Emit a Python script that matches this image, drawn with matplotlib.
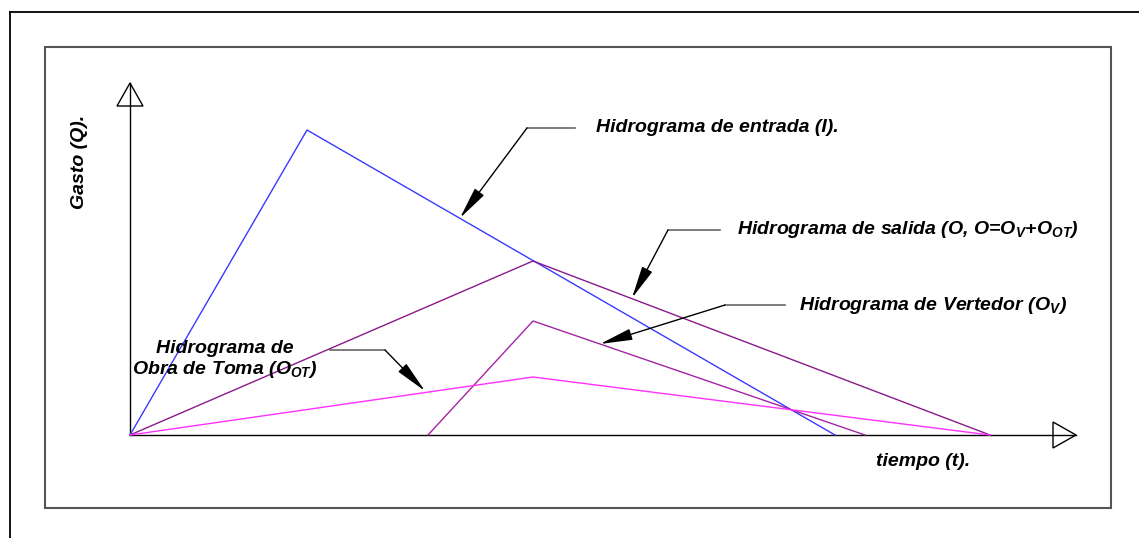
import matplotlib
matplotlib.use('Agg')
import matplotlib.pyplot as plt
from matplotlib.patches import Polygon, Rectangle

plt.rcParams['font.family'] = ['Liberation Sans', 'DejaVu Sans']
plt.rcParams['mathtext.fontset'] = 'custom'
plt.rcParams['mathtext.rm'] = 'Liberation Sans:bold:italic'
plt.rcParams['mathtext.default'] = 'rm'

# hydrographs (t, Q) in arbitrary units
t_entrada = [0, 17.7, 70.5]
q_entrada = [0, 30.5, 0]
t_salida = [0, 40.3, 86.0]
q_salida = [0, 17.4, 0]
t_vertedor = [29.8, 40.3, 73.5]
q_vertedor = [0, 11.4, 0]
t_toma = [0, 40.3, 86.0]
q_toma = [0, 5.8, 0]

lbl_entrada = 'Hidrograma de entrada (I).'
lbl_salida = r'Hidrograma de salida (O, O=O$_{V}$+O$_{OT}$)'
lbl_vertedor = r'Hidrograma de Vertedor (O$_{V}$)'
lbl_toma = 'Hidrograma de\n' + r'Obra de Toma (O$_{OT}$)'
lbl_y = 'Gasto (Q).'
lbl_x = 'tiempo (t).'

fig = plt.figure(figsize=(11.39, 5.38), dpi=100)
ax = fig.add_axes([0, 0, 1, 1])
ax.set_xlim(-13, 100.9)
ax.set_ylim(-10.3, 43.5)
ax.axis('off')

# frames
fig.add_artist(plt.Line2D([10/1139, 1], [1-12/538, 1-12/538], color='black', lw=1.3))
fig.add_artist(plt.Line2D([10/1139, 10/1139], [0, 1-12/538], color='black', lw=1.3))
fig.add_artist(Rectangle((45/1139, 1-508/538), 1066/1139, 461/538, fill=False,
                         edgecolor='#555555', lw=1.5, transform=fig.transFigure))

# axes with open arrowheads
ax.plot([0, 0], [0, 35.2], color='black', lw=1)
ax.plot([0, 94.6], [0, 0], color='black', lw=1)
ax.add_patch(Polygon([[-1.3, 32.9], [1.3, 32.9], [0, 35.2]], closed=True,
                     fill=False, edgecolor='black', lw=1))
ax.add_patch(Polygon([[92.3, -1.3], [92.3, 1.3], [94.6, 0]], closed=True,
                     fill=False, edgecolor='black', lw=1))

# hydrographs
ax.plot(t_entrada, q_entrada, color='#3a3aff', lw=1)
ax.plot(t_salida, q_salida, color='#8a1a8a', lw=1)
ax.plot(t_vertedor, q_vertedor, color='#a524a5', lw=1)
ax.plot(t_toma, q_toma, color='#ff30ff', lw=1)

txt = dict(fontsize=14, fontweight='bold', fontstyle='italic', color='black')


def leader(x0, x1, y, tip):
    ax.plot([x0, x1], [y, y], color='#666666', lw=1.2)
    ax.annotate('', xy=tip, xytext=(x1, y),
                arrowprops=dict(arrowstyle='-|>,head_length=2.0,head_width=0.35',
                                color='black', lw=1, shrinkA=0, shrinkB=0,
                                mutation_scale=10))


ax.text(46.6, 30.7, lbl_entrada, ha='left', va='center', **txt)
leader(44.5, 39.7, 30.7, (33.0, 21.7))

ax.text(60.7, 20.5, lbl_salida, ha='left', va='center', **txt)
leader(59.0, 53.8, 20.5, (50.2, 13.7))

ax.text(66.9, 13.0, lbl_vertedor, ha='left', va='center', **txt)
leader(65.5, 59.5, 13.0, (47.0, 9.1))

ax.text(9.5, 7.5, lbl_toma, ha='center', va='center', linespacing=1.1, **txt)
leader(20.0, 25.5, 8.5, (29.5, 4.4))

ax.text(-5.0, 27.3, lbl_y, ha='center', va='center', rotation=90, **txt)
ax.text(79.3, -2.7, lbl_x, ha='center', va='center', **txt)

fig.savefig('out.png', dpi=100)
